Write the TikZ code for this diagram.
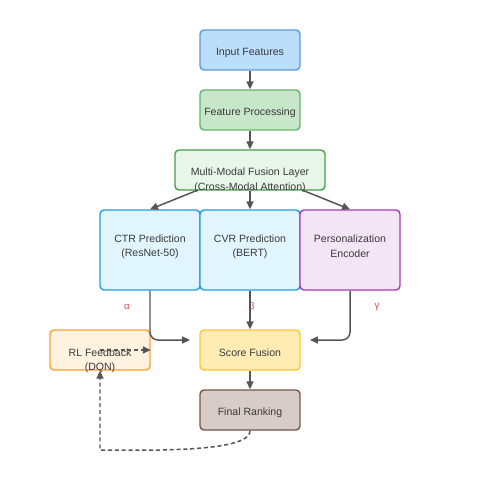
\documentclass[tikz,border=0pt]{standalone}
\usepackage{fontspec}
\setmainfont{Liberation Sans}
\usetikzlibrary{arrows.meta}
\definecolor{txt}{HTML}{3A3A3A}
\definecolor{arr}{HTML}{555555}
\definecolor{greek}{HTML}{E0474C}
\definecolor{inpF}{HTML}{BBDEFB}\definecolor{inpD}{HTML}{5A9BDC}
\definecolor{fpF}{HTML}{C8E6C9}\definecolor{fpD}{HTML}{66B46A}
\definecolor{mmF}{HTML}{E8F5E9}\definecolor{mmD}{HTML}{43A047}
\definecolor{cF}{HTML}{E1F5FE}\definecolor{cD}{HTML}{269BDE}
\definecolor{pF}{HTML}{F3E5F5}\definecolor{pD}{HTML}{A33EB7}
\definecolor{sfF}{HTML}{FFECB3}\definecolor{sfD}{HTML}{FFC632}
\definecolor{rlF}{HTML}{FFF3E0}\definecolor{rlD}{HTML}{FAA032}
\definecolor{frF}{HTML}{D7CCC8}\definecolor{frD}{HTML}{795548}
\tikzset{
  box/.style={draw, line width=0.8pt, rounded corners=2.3pt, inner sep=0pt},
  sbox/.style={box, minimum width=2cm, minimum height=0.8cm},
  tbox/.style={box, minimum width=2cm, minimum height=1.6cm},
  lbl/.style={text=txt, font=\fontsize{6}{7}\selectfont, inner sep=0pt, anchor=center, yshift=-1.5*0.02cm},
  glbl/.style={text=greek, font=\fontsize{5.5}{6}\selectfont, inner sep=0pt},
  conn/.style={draw=arr, line width=0.85pt, -{Triangle[length=4.5pt,width=4pt]}},
  dconn/.style={conn, dash pattern=on 2.3pt off 1.6pt},
}
\begin{document}
\begin{tikzpicture}[x=0.02cm,y=-0.02cm]
\useasboundingbox (0,0) rectangle (500,500);
% boxes
\node[sbox, fill=inpF, draw=inpD] (inp) at (250,50) {};
\node[sbox, fill=fpF, draw=fpD] (fp) at (250,110) {};
\node[box, fill=mmF, draw=mmD, minimum width=3cm, minimum height=0.8cm] (mm) at (250,170) {};
\node[tbox, fill=cF, draw=cD] (ctr) at (150,250) {};
\node[tbox, fill=cF, draw=cD] (cvr) at (250,250) {};
\node[tbox, fill=pF, draw=pD] (pers) at (350,250) {};
\node[sbox, fill=sfF, draw=sfD] (sf) at (250,350) {};
\node[sbox, fill=rlF, draw=rlD] (rl) at (100,350) {};
\node[sbox, fill=frF, draw=frD] (fr) at (250,410) {};
% texts
\node[lbl] (tinp) at (250,51) {Input Features};
\node[lbl] (tfp) at (250,111) {Feature Processing};
\node[lbl] (tmm1) at (250,171) {Multi-Modal Fusion Layer};
\node[lbl] (tmm2) at (250,186) {(Cross-Modal Attention)};
\node[lbl] (tctr1) at (150,237) {CTR Prediction};
\node[lbl] (tctr2) at (150,252) {(ResNet-50)};
\node[lbl] (tcvr1) at (250,237) {CVR Prediction};
\node[lbl] (tcvr2) at (250,252) {(BERT)};
\node[lbl] (tp1) at (350,237) {Personalization};
\node[lbl] (tp2) at (350,252) {Encoder};
\node[lbl] (tsf) at (250,351) {Score Fusion};
\node[lbl] (trl1) at (100,351) {RL Feedback};
\node[lbl] (trl2) at (100,366) {(DQN)};
\node[lbl] (tfr) at (250,411) {Final Ranking};
\node[glbl] (ga) at (127,307) {α};
\node[glbl] (gb) at (252,307) {β};
\node[glbl] (gc) at (377,307) {γ};
% coordinates
\coordinate (mmL) at (198,190);
\coordinate (mmR) at (302,190);
\coordinate (sfL) at (190,340);
\coordinate (sfR) at (310,340);
\coordinate (b1) at (100,450);
% connectors
\draw[conn] (inp.south) -- (fp.north);
\draw[conn] (fp.south) -- (mm.north);
\draw[conn] (mmL) -- (ctr.north);
\draw[conn] (mm.south) -- (cvr.north);
\draw[conn] (mmR) -- (pers.north);
\draw[conn, rounded corners=4.5pt] (ctr.south) |- (sfL);
\draw[conn] (cvr.south) -- (sf.north);
\draw[conn, rounded corners=4.5pt] (pers.south) |- (sfR);
\draw[conn] (sf.south) -- (fr.north);
\draw[dconn] (fr.south) .. controls ([yshift=-14*0.02cm]fr.south) and (210,449) .. (160,450) -- (b1) -- (rl.south);
\draw[dconn] (rl.center) -- (rl.east);
\end{tikzpicture}
\end{document}
